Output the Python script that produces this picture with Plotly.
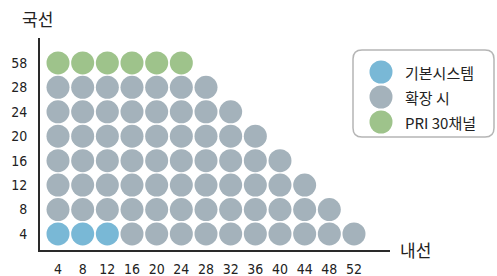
import plotly.graph_objects as go

# ---- data ----
x_ticks = [4, 8, 12, 16, 20, 24, 28, 32, 36, 40, 44, 48, 52]          # 내선
y_ticks = ["4", "8", "12", "16", "20", "24", "28", "58"]               # 국선
row_max = [52, 48, 44, 40, 36, 32, 28, 24]                              # last 내선 value per 국선 row
basic_x = [4, 8, 12]          # 기본시스템 (국선 4)
basic_y = ["4", "4", "4"]
pri_row = "58"                # PRI 30채널 row

series_names = ["기본시스템", "확장 시", "PRI 30채널"]
colors = ["#79b8d6", "#a4b2bb", "#9ec38b"]

# build points
basic_pts = set(zip(basic_x, basic_y))
ext_x, ext_y, pri_x, pri_y = [], [], [], []
for yl, mx in zip(y_ticks, row_max):
    for xv in x_ticks:
        if xv > mx:
            continue
        if (xv, yl) in basic_pts:
            continue
        if yl == pri_row:
            pri_x.append(xv); pri_y.append(yl)
        else:
            ext_x.append(xv); ext_y.append(yl)

W, H = 497, 276
L, R, T, B = 40, 390, 38, 250
def px(x): return (x - L) / (R - L)
def py(y): return (B - y) / (B - T)

MS = 23
fig = go.Figure()
for name, xs, ys, c in [(series_names[1], ext_x, ext_y, colors[1]),
                        (series_names[0], basic_x, basic_y, colors[0]),
                        (series_names[2], pri_x, pri_y, colors[2])]:
    fig.add_trace(go.Scatter(x=xs, y=ys, mode="markers", name=name,
                             marker=dict(size=MS, color=c, line=dict(width=0)),
                             showlegend=False, hoverinfo="x+y+name", cliponaxis=False))

num_font = "Liberation Sans Narrow, DejaVu Sans Condensed, Arial Narrow, Liberation Sans, Arial, sans-serif"
kr_font = "Noto Sans CJK KR, sans-serif"

fig.update_layout(
    template="none",
    width=W, height=H,
    margin=dict(l=L, r=W - R, t=T, b=H - B, pad=0),
    paper_bgcolor="white", plot_bgcolor="white",
    showlegend=False,
    font=dict(family=num_font, size=14, color="#222"),
)
fig.update_xaxes(range=[4 - 0.73 * 4, 4 + 13.46 * 4], tickvals=x_ticks,
                 ticktext=[str(v) for v in x_ticks], automargin=False,
                 showgrid=False, zeroline=False, showline=True, linewidth=2,
                 linecolor="#2a2a2a", ticks="", ticklabelstandoff=5,
                 tickfont=dict(family=num_font, size=14, color="#222"))
fig.update_yaxes(type="category", categoryorder="array", categoryarray=y_ticks,
                 range=[-0.655, 8.02], automargin=False,
                 showgrid=False, zeroline=False, showline=True, linewidth=2,
                 linecolor="#2a2a2a", ticks="", ticklabelstandoff=8,
                 tickfont=dict(family=num_font, size=14, color="#222"))

ann = [
    dict(text="국선", x=px(37), y=py(18)),
    dict(text="내선", x=px(415), y=py(249)),
]
for a in ann:
    fig.add_annotation(xref="paper", yref="paper", showarrow=False,
                       xanchor="center", yanchor="middle",
                       font=dict(family=kr_font, size=17, color="#222"), **a)

# legend box (rounded)
bx0, bx1, by0, by1, r = 353, 494, 50, 137, 9
rx = r / (R - L); ry = r / (B - T)
X0, X1, Y0, Y1 = px(bx0), px(bx1), py(by1), py(by0)
path = (f"M {X0+rx},{Y0} L {X1-rx},{Y0} Q {X1},{Y0} {X1},{Y0+ry} "
        f"L {X1},{Y1-ry} Q {X1},{Y1} {X1-rx},{Y1} L {X0+rx},{Y1} "
        f"Q {X0},{Y1} {X0},{Y1-ry} L {X0},{Y0+ry} Q {X0},{Y0} {X0+rx},{Y0} Z")
fig.add_shape(type="path", path=path, xref="paper", yref="paper",
              line=dict(color="#b5b5b5", width=1.5), fillcolor="white", layer="below")

leg_y = [72, 97, 122]
for name, c, yy in zip(series_names, colors, leg_y):
    fig.add_shape(type="circle", xref="paper", yref="paper",
                  xsizemode="pixel", ysizemode="pixel",
                  xanchor=px(381), yanchor=py(yy),
                  x0=-11.5, x1=11.5, y0=-11.5, y1=11.5,
                  fillcolor=c, line=dict(width=0))
    fig.add_annotation(xref="paper", yref="paper", showarrow=False,
                       x=px(403), y=py(yy), xanchor="left", yanchor="middle",
                       text=name, font=dict(family=kr_font, size=15, color="#222"))

fig.write_html("out.html", config={"displayModeBar": False},
               post_script="document.body.style.margin='0';document.body.style.overflow='hidden';")
